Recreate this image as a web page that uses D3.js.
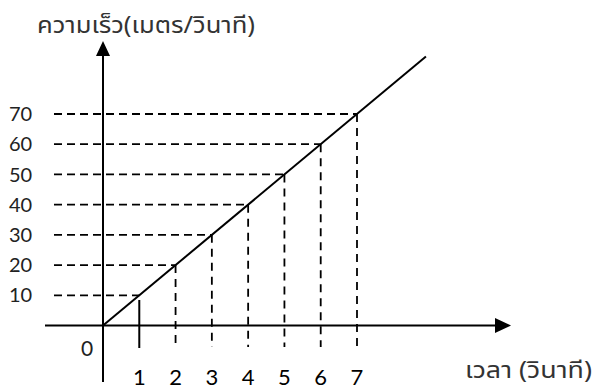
<!DOCTYPE html>
<html>
<head>
<meta charset="utf-8">
<script src="https://cdn.jsdelivr.net/npm/d3@7"></script>
<style>
  html, body { margin: 0; padding: 0; background: #fff; }
  svg { display: block; }
  .thai { font-family: "Noto Sans Thai", "Noto Sans Thai UI", "Tahoma", "Noto Sans", sans-serif; }
  .num { font-family: "Lato", "Open Sans", sans-serif; }
</style>
</head>
<body>
<script>
// ---- data ----
const velocityTicks = [10, 20, 30, 40, 50, 60, 70];       // m/s
const timeTicks = [1, 2, 3, 4, 5, 6, 7];                   // s
const guideTimes = [2, 3, 4, 5, 6, 7];                     // dashed verticals
const markerTime = 1;                                      // short solid mark
const velocityLine = [[0, 0], [8.9, 89]];                  // v = 10 t
const yTitle = "ความเร็ว(เมตร/วินาที)";
const xTitle = "เวลา (วินาที)";
const originLabel = "0";

// ---- layout ----
const W = 594, H = 389;
const x = d3.scaleLinear().domain([0, 7]).range([103, 357]);
const y = d3.scaleLinear().domain([0, 70]).range([325.5, 114]);

const svg = d3.select("body").append("svg").attr("width", W).attr("height", H);

// horizontal dashed guides
svg.append("g").selectAll("line").data(velocityTicks).join("line")
  .attr("x1", 54).attr("x2", d => x(d / 10))
  .attr("y1", d => y(d)).attr("y2", d => y(d))
  .attr("stroke", "#000").attr("stroke-width", 1.8).attr("stroke-dasharray", "8,5");

// vertical dashed guides
svg.append("g").selectAll("line").data(guideTimes).join("line")
  .attr("x1", d => x(d)).attr("x2", d => x(d))
  .attr("y1", d => y(d * 10)).attr("y2", 347)
  .attr("stroke", "#000").attr("stroke-width", 1.8).attr("stroke-dasharray", "8,6");

// short solid mark at t = 1
svg.append("line")
  .attr("x1", x(markerTime)).attr("x2", x(markerTime))
  .attr("y1", 300).attr("y2", 348)
  .attr("stroke", "#000").attr("stroke-width", 2);

// axes
svg.append("line").attr("x1", 45).attr("x2", 498).attr("y1", y(0)).attr("y2", y(0))
  .attr("stroke", "#000").attr("stroke-width", 2);
svg.append("line").attr("x1", x(0)).attr("x2", x(0)).attr("y1", 382).attr("y2", 52)
  .attr("stroke", "#000").attr("stroke-width", 2);
// arrowheads
svg.append("path")
  .attr("d", `M${x(0)},41 L${x(0) - 7},56 L${x(0) + 7},56 Z`).attr("fill", "#000");
svg.append("path")
  .attr("d", `M511,${y(0)} L495,${y(0) - 7.5} L495,${y(0) + 7.5} Z`).attr("fill", "#000");

// velocity line
svg.append("path")
  .datum(velocityLine)
  .attr("d", d3.line().x(d => x(d[0])).y(d => y(d[1])))
  .attr("fill", "none").attr("stroke", "#000").attr("stroke-width", 2);

// y tick labels
svg.append("g").selectAll("text").data(velocityTicks).join("text")
  .attr("class", "num")
  .attr("x", 9).attr("y", d => y(d)).attr("dy", "0.36em")
  .attr("font-size", 20).attr("fill", "#222")
  .text(d => d);

// x tick labels
svg.append("g").selectAll("text").data(timeTicks).join("text")
  .attr("class", "num")
  .attr("x", d => x(d)).attr("y", 385)
  .attr("text-anchor", "middle")
  .attr("font-size", 22).attr("fill", "#000")
  .text(d => d);

// origin label
svg.append("text").attr("class", "num")
  .attr("x", 87).attr("y", 356).attr("text-anchor", "middle")
  .attr("font-size", 21).attr("fill", "#222").text(originLabel);

// titles
svg.append("text").attr("class", "thai")
  .attr("x", 37).attr("y", 33).attr("font-size", 23).attr("fill", "#333")
  .attr("textLength", 218).attr("lengthAdjust", "spacingAndGlyphs").text(yTitle);
svg.append("text").attr("class", "thai")
  .attr("x", 465).attr("y", 378).attr("font-size", 23).attr("fill", "#333")
  .attr("textLength", 127).attr("lengthAdjust", "spacingAndGlyphs").text(xTitle);
</script>
</body>
</html>
